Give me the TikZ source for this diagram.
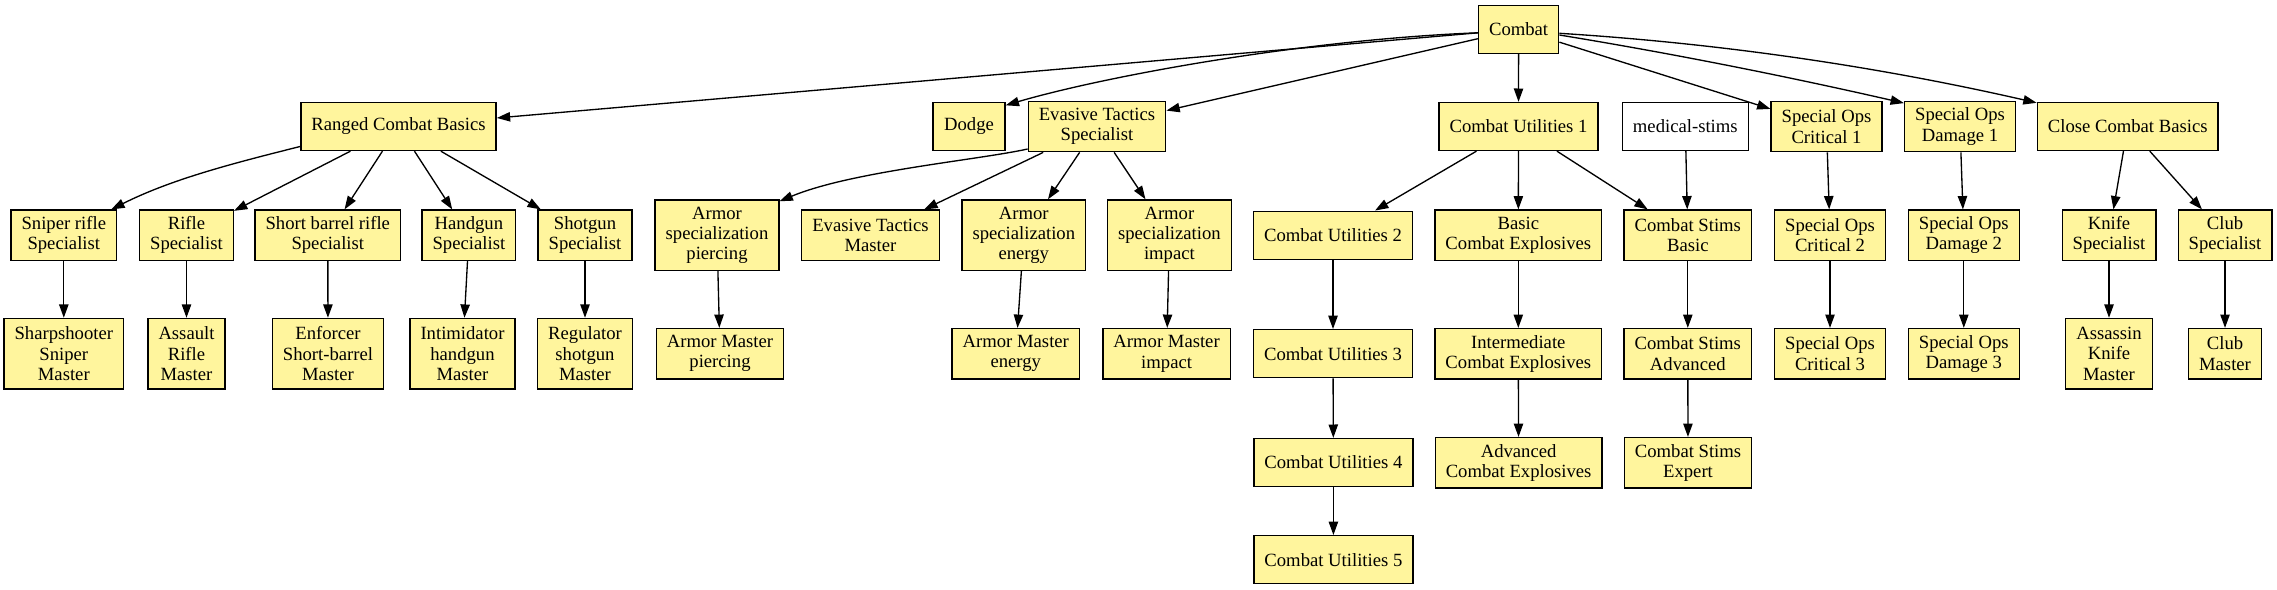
\documentclass[tikz,border=0pt]{standalone}
\usepackage{fontspec}
\setmainfont{Liberation Serif}
\usepackage{tikz}
\usetikzlibrary{arrows.meta,calc}
\definecolor{skillfill}{HTML}{FFF59D}

\begin{document}
\begin{tikzpicture}[x=0.75pt,y=-0.75pt,
  skill/.style={draw,fill=skillfill,line width=1pt,align=center,
    font=\fontsize{14}{15.2}\selectfont,inner xsep=7.92pt,inner ysep=1pt,
    minimum width=54pt,minimum height=36pt},
  two/.style={skill,minimum height=37.7pt},
  three/.style={skill,minimum height=52.9pt},
  link/.style={-{Triangle[length=10pt,width=7pt]},line width=1pt}]
  \useasboundingbox (0,0) rectangle (2277,589);

  % root
  \node[skill] (combat) at (1518.6,29.3) {Combat};

  % first rank
  \node[skill] (ranged) at (398.5,126.5) {Ranged Combat Basics};
  \node[skill] (dodge) at (969,126.5) {Dodge};
  \node[two] (evasive) at (1097,126.6) {Evasive Tactics\\Specialist};
  \node[skill] (util1) at (1518.5,126.5) {Combat Utilities 1};
  \node[skill,fill=white] (medstims) at (1685.3,126.5) {medical-stims};
  \node[two] (crit1) at (1826.5,126.6) {Special Ops\\Critical 1};
  \node[two] (dmg1) at (1960,126.6) {Special Ops\\Damage 1};
  \node[skill] (close) at (2127.7,126.5) {Close Combat Basics};

  % second rank
  \node[two] (sniper) at (63.8,235.2) {Sniper rifle\\Specialist};
  \node[two] (rifle) at (186.5,235.2) {Rifle\\Specialist};
  \node[two] (shortb) at (327.8,235.2) {Short barrel rifle\\Specialist};
  \node[two] (handgun) at (468.9,235.2) {Handgun\\Specialist};
  \node[two] (shotgun) at (585,235.2) {Shotgun\\Specialist};
  \node[three] (pierce) at (717,235.2) {Armor\\specialization\\piercing};
  \node[two] (evmaster) at (870.5,235.2) {Evasive Tactics\\Master};
  \node[three] (energy) at (1023.8,235.2) {Armor\\specialization\\energy};
  \node[three] (impact) at (1169.4,235.2) {Armor\\specialization\\impact};
  \node[skill] (util2) at (1333,235.2) {Combat Utilities 2};
  \node[two] (expl1) at (1518.3,235.2) {Basic\\Combat Explosives};
  \node[two] (stims1) at (1687.8,235.2) {Combat Stims\\Basic};
  \node[two] (crit2) at (1830,235.2) {Special Ops\\Critical 2};
  \node[two] (dmg2) at (1963.8,235.2) {Special Ops\\Damage 2};
  \node[two] (knife) at (2109,235.2) {Knife\\Specialist};
  \node[two] (club) at (2225,235.2) {Club\\Specialist};

  % third rank
  \node[three] (sharp) at (63.8,353.7) {Sharpshooter\\Sniper\\Master};
  \node[three] (assault) at (186.5,353.7) {Assault\\Rifle\\Master};
  \node[three] (enforcer) at (328,353.7) {Enforcer\\Short-barrel\\Master};
  \node[three] (intim) at (462.5,353.7) {Intimidator\\handgun\\Master};
  \node[three] (regul) at (585,353.7) {Regulator\\shotgun\\Master};
  \node[two] (piercem) at (720,353.7) {Armor Master\\piercing};
  \node[two] (energym) at (1015.8,353.7) {Armor Master\\energy};
  \node[two] (impactm) at (1166.6,353.7) {Armor Master\\impact};
  \node[skill] (util3) at (1333,353.7) {Combat Utilities 3};
  \node[two] (expl2) at (1518.3,353.7) {Intermediate\\Combat Explosives};
  \node[two] (stims2) at (1687.8,353.7) {Combat Stims\\Advanced};
  \node[two] (crit3) at (1830,353.7) {Special Ops\\Critical 3};
  \node[two] (dmg3) at (1963.8,353.7) {Special Ops\\Damage 3};
  \node[three] (knifem) at (2109,353.7) {Assassin\\Knife\\Master};
  \node[two] (clubm) at (2225,353.7) {Club\\Master};

  % fourth and fifth rank
  \node[skill] (util4) at (1333.4,462.5) {Combat Utilities 4};
  \node[two] (expl3) at (1518.6,462.7) {Advanced\\Combat Explosives};
  \node[two] (stims3) at (1688,462.7) {Combat Stims\\Expert};
  \node[skill] (util5) at (1333.4,559.7) {Combat Utilities 5};

  % edges from the root
  \draw[link] (combat) -- (ranged);
  \draw[link] ($(combat.west)+(0,3.5)$) .. controls +(-178,7) and +(95,-28) .. ($(dodge.north east)+(0,3.5)$);
  \draw[link] (combat) -- (evasive);
  \draw[link] (combat) -- (util1);
  \draw[link] (combat) -- (crit1);
  \draw[link] ($(combat.east)+(0,5.7)$) .. controls +(115,18.8) and +(-115,-26.3) .. ($(dmg1.north west)+(0,2.3)$);
  \draw[link] ($(combat.east)+(0,4)$) .. controls +(160,10) and +(-160,-36.6) .. ($(close.north west)+(0,1)$);

  % ranged
  \draw[link] ($(ranged.west)+(0,20)$) .. controls +(-70,17.5) and +(60,-30) .. ($(sniper.north east)+(-6,0)$);
  \draw[link] (ranged) -- (rifle);
  \draw[link] (ranged) -- (shortb);
  \draw[link] (ranged) -- (handgun);
  \draw[link] (ranged) -- (shotgun);
  \draw[link] (sniper) -- (sharp);
  \draw[link] (rifle) -- (assault);
  \draw[link] (shortb) -- (enforcer);
  \draw[link] (handgun) -- (intim);
  \draw[link] (shotgun) -- (regul);

  % evasive
  \draw[link] ($(evasive.west)+(0,22.4)$) .. controls +(-49.3,11) and +(72,-30) .. ($(pierce.north east)+(0,2)$);
  \draw[link] (evasive) -- (evmaster);
  \draw[link] (evasive) -- (energy);
  \draw[link] (evasive) -- (impact);
  \draw[link] (pierce) -- (piercem);
  \draw[link] (energy) -- (energym);
  \draw[link] (impact) -- (impactm);

  % utilities, explosives, stims
  \draw[link] (util1) -- (util2);
  \draw[link] (util1) -- (expl1);
  \draw[link] (util1) -- (stims1);
  \draw[link] (medstims) -- (stims1);
  \draw[link] (util2) -- (util3);
  \draw[link] (util3) -- (util4);
  \draw[link] (util4) -- (util5);
  \draw[link] (expl1) -- (expl2);
  \draw[link] (expl2) -- (expl3);
  \draw[link] (stims1) -- (stims2);
  \draw[link] (stims2) -- (stims3);

  % special ops and close combat
  \draw[link] (crit1) -- (crit2);
  \draw[link] (crit2) -- (crit3);
  \draw[link] (dmg1) -- (dmg2);
  \draw[link] (dmg2) -- (dmg3);
  \draw[link] (close) -- (knife);
  \draw[link] (close) -- (club);
  \draw[link] (knife) -- (knifem);
  \draw[link] (club) -- (clubm);
\end{tikzpicture}
\end{document}
